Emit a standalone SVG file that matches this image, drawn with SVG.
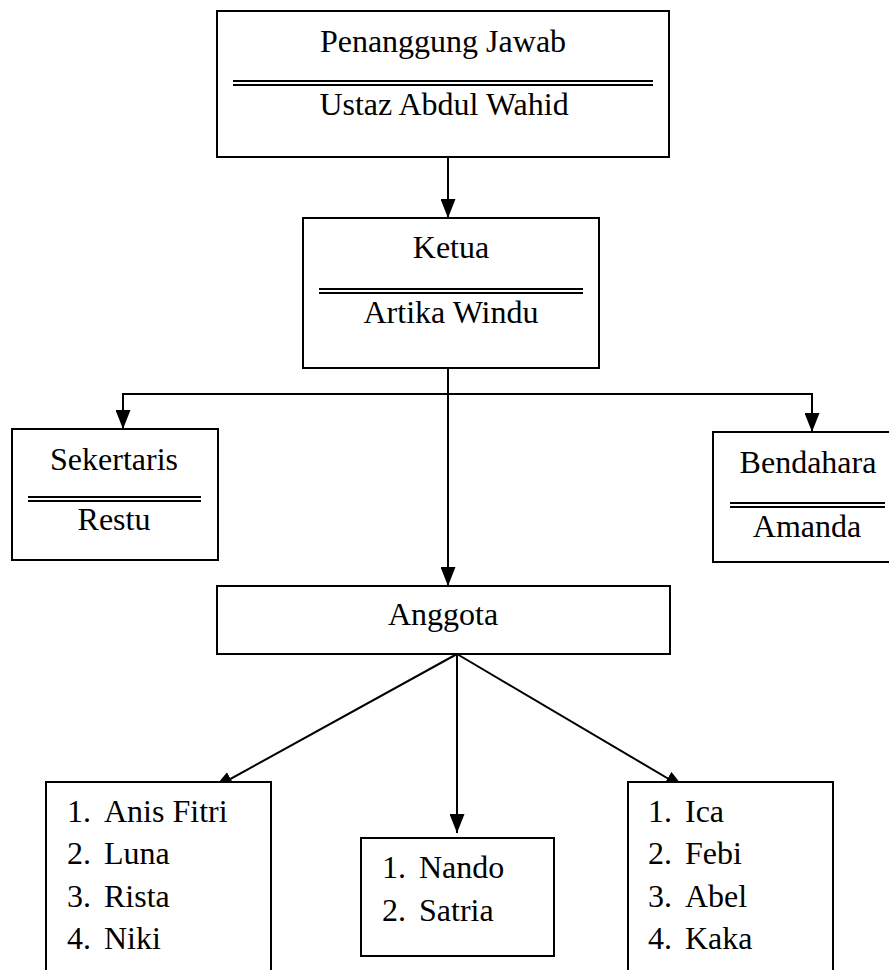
<svg xmlns="http://www.w3.org/2000/svg" width="889" height="970" viewBox="0 0 889 970">
<style>
.box{fill:#fff;stroke:#000;stroke-width:2}
.dbl{stroke:#000;stroke-width:2}
.t{font-family:'Liberation Serif','Times New Roman',serif;font-size:32px;fill:#000}
.c{text-anchor:middle}
.conn{fill:none;stroke:#000;stroke-width:2}
</style>
<defs>
<marker id="ah" markerUnits="userSpaceOnUse" markerWidth="20" markerHeight="15" refX="19" refY="7.5" orient="auto">
<path d="M0,0 L19,7.5 L0,15 z" fill="#000"/>
</marker>
</defs>
<rect width="889" height="970" fill="#fff"/>
<g id="connectors">
<line class="conn" x1="448" y1="157" x2="448" y2="218" marker-end="url(#ah)"/>
<line class="conn" x1="448" y1="368" x2="448" y2="586" marker-end="url(#ah)"/>
<polyline class="conn" points="123,429 123,394 812,394 812,432"/>
<line class="conn" x1="123" y1="410" x2="123" y2="429" marker-end="url(#ah)"/>
<line class="conn" x1="812" y1="410" x2="812" y2="432" marker-end="url(#ah)"/>
<line class="conn" x1="457" y1="654" x2="214" y2="788" marker-end="url(#ah)"/>
<line class="conn" x1="457" y1="654" x2="457" y2="833" marker-end="url(#ah)"/>
<line class="conn" x1="457" y1="654" x2="684" y2="788" marker-end="url(#ah)"/>
</g>
<g id="penanggung-jawab">
<rect class="box" x="217" y="11" width="452" height="146"/>
<text class="t c" x="443" y="52">Penanggung Jawab</text>
<line class="dbl" x1="233" y1="81" x2="653" y2="81"/>
<line class="dbl" x1="233" y1="85" x2="653" y2="85"/>
<text class="t c" x="444" y="115">Ustaz Abdul Wahid</text>
</g>
<g id="ketua">
<rect class="box" x="303" y="218" width="296" height="150"/>
<text class="t c" x="451" y="258">Ketua</text>
<line class="dbl" x1="319" y1="289" x2="583" y2="289"/>
<line class="dbl" x1="319" y1="293" x2="583" y2="293"/>
<text class="t c" x="451" y="323">Artika Windu</text>
</g>
<g id="sekertaris">
<rect class="box" x="12" y="429" width="206" height="131"/>
<text class="t c" x="114" y="470">Sekertaris</text>
<line class="dbl" x1="28" y1="497" x2="201" y2="497"/>
<line class="dbl" x1="28" y1="501" x2="201" y2="501"/>
<text class="t c" x="114" y="530">Restu</text>
</g>
<g id="bendahara">
<rect class="box" x="713" y="432" width="190" height="130"/>
<text class="t c" x="808" y="473">Bendahara</text>
<line class="dbl" x1="730" y1="503" x2="885" y2="503"/>
<line class="dbl" x1="730" y1="507" x2="885" y2="507"/>
<text class="t c" x="807" y="537">Amanda</text>
</g>
<g id="anggota">
<rect class="box" x="217" y="586" width="453" height="68"/>
<text class="t c" x="443" y="625">Anggota</text>
</g>
<g id="kelompok-1">
<rect class="box" x="46" y="782" width="225" height="200"/>
<text class="t" x="67" y="822">1.</text><text class="t" x="104" y="822">Anis Fitri</text>
<text class="t" x="67" y="864">2.</text><text class="t" x="104" y="864">Luna</text>
<text class="t" x="67" y="907">3.</text><text class="t" x="104" y="907">Rista</text>
<text class="t" x="67" y="949">4.</text><text class="t" x="104" y="949">Niki</text>
</g>
<g id="kelompok-2">
<rect class="box" x="361" y="838" width="193" height="118"/>
<text class="t" x="382" y="878">1.</text><text class="t" x="419" y="878">Nando</text>
<text class="t" x="382" y="921">2.</text><text class="t" x="419" y="921">Satria</text>
</g>
<g id="kelompok-3">
<rect class="box" x="628" y="782" width="205" height="200"/>
<text class="t" x="648" y="822">1.</text><text class="t" x="685" y="822">Ica</text>
<text class="t" x="648" y="864">2.</text><text class="t" x="685" y="864">Febi</text>
<text class="t" x="648" y="907">3.</text><text class="t" x="685" y="907">Abel</text>
<text class="t" x="648" y="949">4.</text><text class="t" x="685" y="949">Kaka</text>
</g>
</svg>
